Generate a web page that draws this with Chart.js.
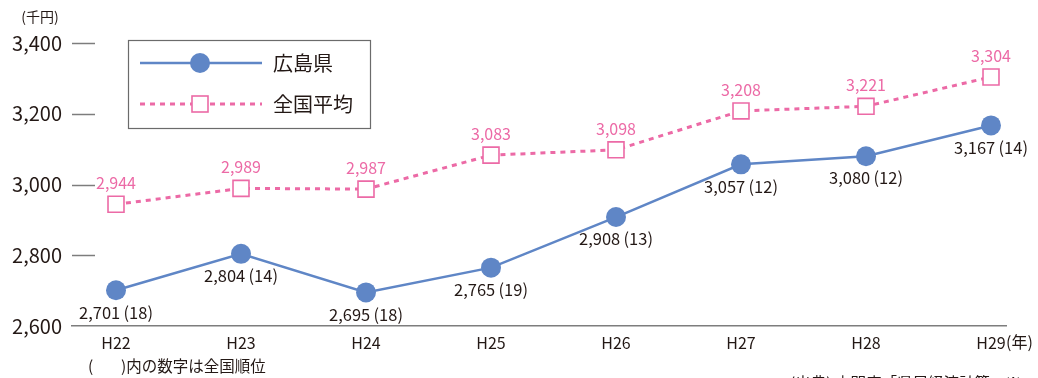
<!DOCTYPE html>
<html lang="ja">
<head>
<meta charset="utf-8">
<script src="https://cdn.jsdelivr.net/npm/chart.js@4/dist/chart.umd.min.js"></script>
<style>
  html, body { margin: 0; padding: 0; background: #fff; }
  #wrap { position: relative; width: 1038px; height: 378px; overflow: hidden; }
  canvas { display: block; }
</style>
</head>
<body>
<div id="wrap"><canvas id="c" width="1038" height="378"></canvas></div>
<script>
// 年度（平成）
const years = ['H22', 'H23', 'H24', 'H25', 'H26', 'H27', 'H28', 'H29'];
// 広島県の1人当たり県民所得（千円）と全国順位
const hiroshima = [2701, 2804, 2695, 2765, 2908, 3057, 3080, 3167];
const hiroshimaRank = [18, 14, 18, 19, 13, 12, 12, 14];
// 全国平均（千円）
const national = [2944, 2989, 2987, 3083, 3098, 3208, 3221, 3304];
// 縦軸の目盛
const yTicks = [2600, 2800, 3000, 3200, 3400];

const FONT = '"Noto Sans CJK JP", "Noto Sans", sans-serif';
const BLUE = '#5f86c6';
const PINK = '#ec6aa6';
const TEXT = '#231815';

const fmt = v => v.toLocaleString('en-US');

const decor = {
  id: 'decor',
  afterDatasetsDraw(chart) {
    const { ctx, chartArea, scales } = chart;
    const y = scales.y, x = scales.x;
    ctx.save();
    // 縦軸の短い目盛線
    ctx.strokeStyle = '#7d7d7d';
    ctx.lineWidth = 1.5;
    yTicks.slice(1).forEach(v => {
      const py = Math.round(y.getPixelForValue(v)) + 0.5;
      ctx.beginPath();
      ctx.moveTo(chartArea.left, py);
      ctx.lineTo(chartArea.left + 23, py);
      ctx.stroke();
    });

    // データラベル
    ctx.textAlign = 'center';
    ctx.textBaseline = 'middle';
    const mNat = chart.getDatasetMeta(1);
    ctx.font = '16px ' + FONT;
    ctx.fillStyle = PINK;
    mNat.data.forEach((pt, i) => {
      ctx.fillText(fmt(national[i]), pt.x, pt.y - 21);
    });
    const mHir = chart.getDatasetMeta(0);
    ctx.fillStyle = TEXT;
    ctx.font = '16.5px ' + FONT;
    mHir.data.forEach((pt, i) => {
      ctx.fillText(fmt(hiroshima[i]) + '\u2009(' + hiroshimaRank[i] + ')', pt.x, pt.y + 22);
    });

    // 単位
    ctx.font = '14px ' + FONT;
    ctx.fillStyle = TEXT;
    ctx.textAlign = 'center';
    ctx.fillText('(千円)', 40, 17);

    // 横軸末尾の「(年)」
    const lastX = x.getPixelForValue(years.length - 1);
    ctx.font = '16px ' + FONT;
    ctx.textAlign = 'left';
    ctx.fillText('(年)', lastX + 15, 342);

    // 注記
    ctx.font = '15.5px ' + FONT;
    ctx.textAlign = 'left';
    ctx.fillText('(', 88, 366);
    ctx.fillText(')内の数字は全国順位', 121, 366);
    ctx.fillText('(出典) 内閣府「県民経済計算」※', 790, 383);

    // 凡例
    ctx.strokeStyle = '#6b6b6b';
    ctx.lineWidth = 1.2;
    ctx.strokeRect(128.5, 40.5, 242, 88);

    ctx.strokeStyle = BLUE;
    ctx.lineWidth = 2.5;
    ctx.beginPath();
    ctx.moveTo(140, 63); ctx.lineTo(262, 63);
    ctx.stroke();
    ctx.fillStyle = BLUE;
    ctx.beginPath();
    ctx.arc(200, 63, 10, 0, Math.PI * 2);
    ctx.fill();

    ctx.strokeStyle = PINK;
    ctx.lineWidth = 3;
    ctx.setLineDash([5, 5]);
    ctx.beginPath();
    ctx.moveTo(140, 104); ctx.lineTo(262, 104);
    ctx.stroke();
    ctx.setLineDash([]);
    ctx.fillStyle = '#fff';
    ctx.fillRect(192, 96, 16, 16);
    ctx.lineWidth = 1.6;
    ctx.strokeRect(192, 96, 16, 16);

    ctx.fillStyle = TEXT;
    ctx.font = '20px ' + FONT;
    ctx.textBaseline = 'middle';
    ctx.fillText('広島県', 273, 63);
    ctx.fillText('全国平均', 273, 104);
    ctx.restore();
  }
};

new Chart(document.getElementById('c'), {
  type: 'line',
  data: {
    datasets: [
      {
        label: '広島県',
        data: hiroshima.map((v, i) => ({ x: i, y: v })),
        borderColor: BLUE,
        backgroundColor: BLUE,
        borderWidth: 2.5,
        pointRadius: 10,
        pointHoverRadius: 10,
        pointBorderWidth: 0,
        pointBackgroundColor: BLUE,
        tension: 0
      },
      {
        label: '全国平均',
        data: national.map((v, i) => ({ x: i, y: v })),
        borderColor: PINK,
        backgroundColor: '#fff',
        borderWidth: 3,
        borderDash: [5, 5],
        pointStyle: 'rect',
        pointRadius: 11.3,
        pointHoverRadius: 11.3,
        pointBorderWidth: 1.6,
        pointBackgroundColor: '#fff',
        pointBorderColor: PINK,
        tension: 0
      }
    ]
  },
  options: {
    responsive: false,
    animation: false,
    events: [],
    layout: { padding: { top: 43, right: 32, left: 0, bottom: 0 } },
    plugins: { legend: { display: false }, tooltip: { enabled: false } },
    scales: {
      x: {
        type: 'linear',
        min: -0.352,
        max: 7.12,
        afterBuildTicks: s => { s.ticks = years.map((_, i) => ({ value: i })); },
        afterFit: s => { s.height = 52; },
        grid: { display: false, drawTicks: false },
        border: { display: true, color: '#7d7d7d', width: 1.5 },
        ticks: {
          callback: v => years[v],
          font: { family: FONT, size: 16 },
          color: TEXT,
          padding: 7,
          maxRotation: 0
        }
      },
      y: {
        min: 2600,
        max: 3400,
        afterBuildTicks: s => { s.ticks = yTicks.map(v => ({ value: v })); },
        afterFit: s => { s.width = 72; },
        grid: { display: false, drawTicks: false },
        border: { display: false },
        ticks: {
          callback: v => fmt(v),
          font: { family: FONT, size: 20 },
          color: TEXT,
          padding: 10
        }
      }
    }
  },
  plugins: [decor]
});
</script>
</body>
</html>
